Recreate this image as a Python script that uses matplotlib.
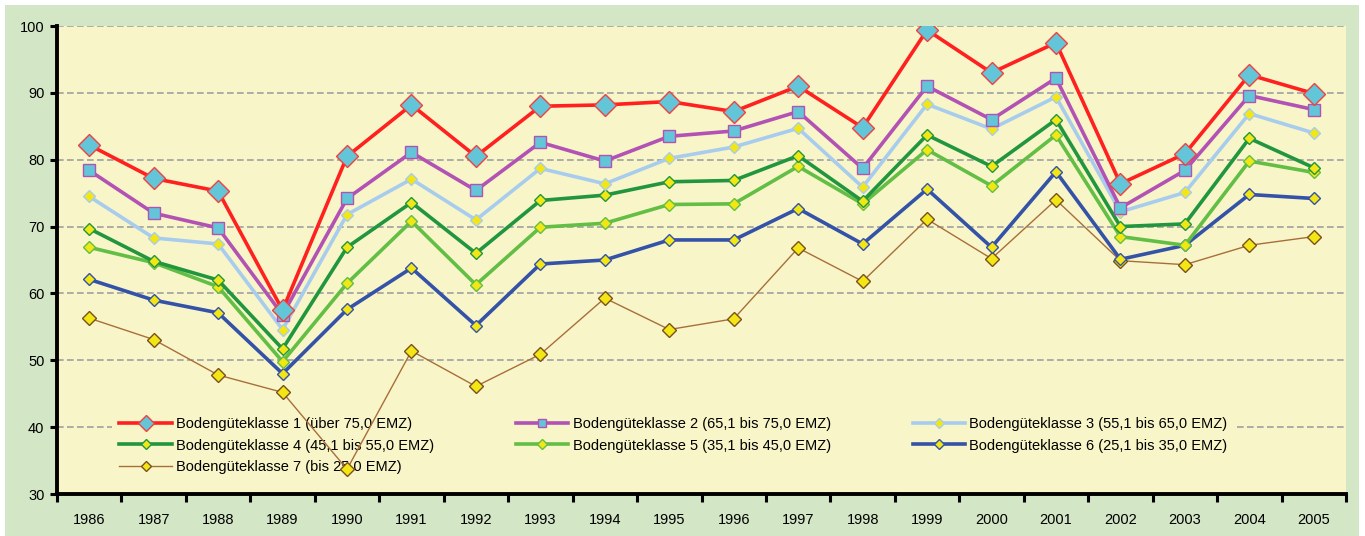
import matplotlib
matplotlib.use("Agg")
import matplotlib.pyplot as plt
from matplotlib.patches import Rectangle

plt.rcParams['font.family'] = ['Liberation Sans', 'DejaVu Sans']

years = ["1986", "1987", "1988", "1989", "1990", "1991", "1992", "1993", "1994", "1995",
         "1996", "1997", "1998", "1999", "2000", "2001", "2002", "2003", "2004", "2005"]

klasse1 = [82.2, 77.2, 75.3, 57.5, 80.5, 88.2, 80.5, 88.0, 88.2, 88.7,
           87.2, 91.0, 84.8, 99.4, 93.0, 97.5, 76.4, 80.9, 92.7, 89.9]
klasse2 = [78.4, 72.0, 69.8, 56.8, 74.2, 81.1, 75.4, 82.6, 79.8, 83.5,
           84.3, 87.2, 78.7, 91.0, 86.0, 92.2, 72.8, 78.4, 89.6, 87.5]
klasse3 = [74.5, 68.3, 67.4, 54.6, 71.8, 77.1, 71.0, 78.7, 76.4, 80.2,
           81.9, 84.7, 75.9, 88.3, 84.6, 89.4, 72.2, 75.1, 86.9, 84.0]
klasse4 = [69.7, 64.8, 62.0, 51.7, 66.9, 73.6, 66.0, 73.9, 74.7, 76.7,
           76.9, 80.6, 73.8, 83.7, 79.0, 86.0, 70.0, 70.4, 83.2, 78.8]
klasse5 = [66.9, 64.6, 61.0, 49.8, 61.5, 70.8, 61.3, 69.9, 70.5, 73.3,
           73.4, 79.0, 73.4, 81.5, 76.1, 83.7, 68.5, 67.2, 79.8, 78.1]
klasse6 = [62.1, 59.0, 57.1, 48.0, 57.6, 63.8, 55.2, 64.4, 65.0, 68.0,
           68.0, 72.7, 67.4, 75.6, 66.9, 78.2, 65.1, 67.2, 74.8, 74.2]
klasse7 = [56.3, 53.1, 47.8, 45.2, 33.7, 51.4, 46.1, 50.9, 59.3, 54.6,
           56.2, 66.8, 61.8, 71.1, 65.2, 74.0, 64.9, 64.3, 67.2, 68.5]

labels = ["Bodengüteklasse 1 (über 75,0 EMZ)",
          "Bodengüteklasse 2 (65,1 bis 75,0 EMZ)",
          "Bodengüteklasse 3 (55,1 bis 65,0 EMZ)",
          "Bodengüteklasse 4 (45,1 bis 55,0 EMZ)",
          "Bodengüteklasse 5 (35,1 bis 45,0 EMZ)",
          "Bodengüteklasse 6 (25,1 bis 35,0 EMZ)",
          "Bodengüteklasse 7 (bis 25,0 EMZ)"]

yticks = [30, 40, 50, 60, 70, 80, 90, 100]

fig = plt.figure(figsize=(13.65, 5.36), dpi=100, facecolor='white')
fig.patches.append(Rectangle((5 / 1365, 0), (1359 - 5) / 1365, (536 - 5) / 536,
                             transform=fig.transFigure, facecolor='#D3E6C6',
                             edgecolor='none', zorder=-10))
ax = fig.add_axes([57 / 1365, (536 - 494) / 536, (1346 - 57) / 1365, (494 - 26) / 536])
ax.set_facecolor('#F8F6C8')

x = list(range(len(years)))
yellow = '#F2E614'

styles = [
    (klasse1, '#FF2020', 2.6, 'D', 11, '#62C6D8', '#F04040'),
    (klasse2, '#B252B4', 2.6, 's', 8, '#62C6D8', '#B252B4'),
    (klasse3, '#A8CCEE', 2.6, 'D', 6.5, yellow, '#A8CCEE'),
    (klasse4, '#21963E', 2.6, 'D', 6.5, yellow, '#21963E'),
    (klasse5, '#62BE44', 2.6, 'D', 6.5, yellow, '#62BE44'),
    (klasse6, '#3452A8', 2.6, 'D', 6.5, yellow, '#3452A8'),
    (klasse7, '#A86E3A', 1.0, 'D', 7, yellow, '#7A5020'),
]

order = [6, 5, 4, 3, 2, 1, 0]
handles = [None] * 7
for i in order:
    vals, col, lw, mk, ms, mfc, mec = styles[i]
    h, = ax.plot(x, vals, color=col, lw=lw, marker=mk, markersize=ms,
                 markerfacecolor=mfc, markeredgecolor=mec, markeredgewidth=1.0,
                 label=labels[i], zorder=3 + (6 - i) * 0.1)
    handles[i] = h

ax.set_xlim(-0.5, len(years) - 0.5)
ax.set_ylim(30, 100)
ax.set_yticks(yticks)
ax.set_yticklabels([str(v) for v in yticks])
ax.set_xticks(x)
ax.set_xticklabels(years)
ax.set_xticks([i - 0.5 for i in range(len(years) + 1)], minor=True)
ax.tick_params(axis='x', which='major', length=0, pad=14, labelsize=10.5)
ax.tick_params(axis='x', which='minor', length=6, width=2.2, direction='out', color='black')
ax.tick_params(axis='y', which='major', length=5, width=2.2, direction='out', pad=4, labelsize=10.5)

ax.yaxis.grid(True, color='#A0A0A0', linestyle=(0, (4, 2)), linewidth=1.2, zorder=1)
ax.set_axisbelow(True)
for s in ['top', 'right']:
    ax.spines[s].set_visible(False)
for s in ['left', 'bottom']:
    ax.spines[s].set_linewidth(2.8)
    ax.spines[s].set_color('black')
    ax.spines[s].set_zorder(5)

# row-major legend order (1,2,3 / 4,5,6 / 7) for matplotlib's column filling
leg_order = [0, 3, 6, 1, 4, 2, 5]
leg = ax.legend(handles=[handles[k] for k in leg_order],
                labels=[labels[k] for k in leg_order],
                ncol=3, loc='upper left',
                bbox_to_anchor=((112 - 57) / 1289, (494 - 410) / 468),
                frameon=True, fontsize=10.5, handlelength=3.6, markerscale=0.75,
                handletextpad=0.3, labelspacing=0.5, columnspacing=5.6,
                borderpad=0.5, borderaxespad=0)
leg.get_frame().set_facecolor('#F8F6C8')
leg.get_frame().set_edgecolor('none')
leg.get_frame().set_alpha(1)
leg.set_zorder(2)

fig.savefig('out.png', dpi=100, facecolor='white')
